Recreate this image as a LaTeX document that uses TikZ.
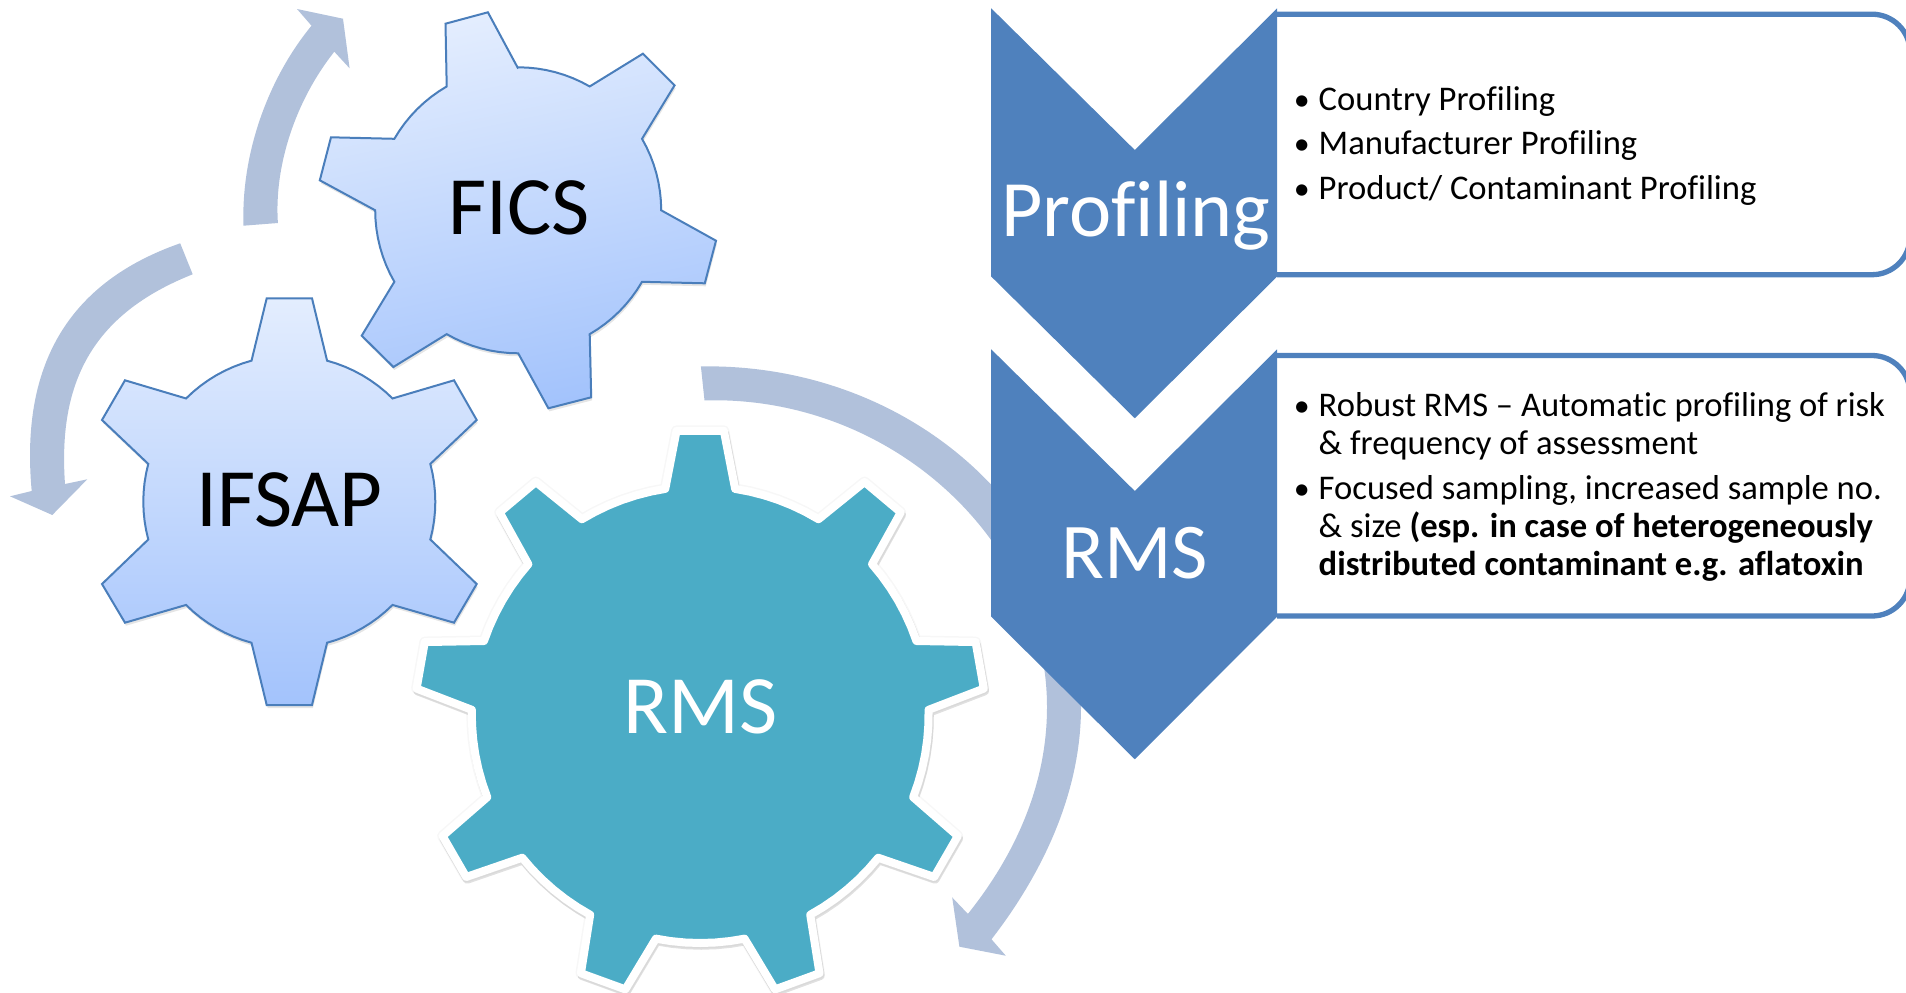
\documentclass[tikz,border=0pt]{standalone}
\usepackage{fontspec}
\setmainfont[Ligatures={TeX,NoCommon}]{Carlito}
\definecolor{arrowblue}{HTML}{B1C1DB}
\definecolor{chevblue}{HTML}{4F81BD}
\definecolor{gearline}{HTML}{4A7EBB}
\definecolor{gearlight}{HTML}{E3EDFE}
\definecolor{geardark}{HTML}{A3C3FC}
\definecolor{rmsteal}{HTML}{4BACC6}
% circular arc of a gear body: centre x, centre y, radius, from angle, to angle
\newcommand\bodyarc[5]{-- plot[domain=#4:#5,samples=9] ({#1+#3*cos(\x)},{#2+#3*sin(\x)})}
\newcommand\ficsgear{(487.9,12.3) -- (517.7,67.7)
  \bodyarc{518.2}{210.3}{143}{-90}{-60} -- (642.9,53.7) -- (674.6,85.3)
  \bodyarc{518.2}{210.3}{143}{-30}{0} -- (716,240.7) -- (704.8,283.3)
  \bodyarc{518.2}{210.3}{143}{30}{60} -- (591.2,397.3) -- (548.4,408.3)
  \bodyarc{518.2}{210.3}{143}{90}{120} -- (393.4,367) -- (361.7,335.7)
  \bodyarc{518.2}{210.3}{143}{150}{180} -- (319.8,180.3) -- (331,137.3)
  \bodyarc{518.2}{210.3}{143}{210}{240} -- (445.5,23.7) -- cycle}
\newcommand\ifsapgear{(266.7,298.3) -- (312,298.3)
  \bodyarc{289.3}{501.7}{146}{-75}{-45} -- (454,380.3) -- (476.7,420)
  \bodyarc{289.3}{501.7}{146}{-15}{15} -- (476.7,584) -- (454,622.7)
  \bodyarc{289.3}{501.7}{146}{45}{75} -- (312,705) -- (266.7,705)
  \bodyarc{289.3}{501.7}{146}{105}{135} -- (125,622.7) -- (102,584)
  \bodyarc{289.3}{501.7}{146}{165}{195} -- (102,420) -- (125,380.3)
  \bodyarc{289.3}{501.7}{146}{225}{255} -- cycle}
\newcommand\rmsR{228.4}
\newcommand\rmsT{284.8}
\newcommand\rmsgear{({700.2+\rmsT*cos(-94.76)},{714.6+\rmsT*sin(-94.76)})
  \foreach \c/\a/\b in {-90/-81.2/-58.8,-50/-41.2/-18.8,-10/-1.2/21.2,30/38.8/61.2,70/78.8/101.2,110/118.8/141.2,150/158.8/181.2,190/198.8/221.2,230/238.8/261.2}{
    -- ({700.2+\rmsT*cos(\c-4.76)},{714.6+\rmsT*sin(\c-4.76)})
    -- ({700.2+\rmsT*cos(\c+4.76)},{714.6+\rmsT*sin(\c+4.76)})
    -- plot[domain=\a:\b,samples=7] ({700.2+\rmsR*cos(\x)},{714.6+\rmsR*sin(\x)})
  } -- cycle}
\tikzset{
  blockarrow/.style={fill=arrowblue,draw=none},
  softshadow/.style={fill=black,fill opacity=0.10,draw=none},
  bluegear/.style={top color=gearlight,bottom color=geardark,draw=gearline,line width=2pt,line join=miter},
  chevron/.style={fill=chevblue,draw=none},
  panel/.style={draw=chevblue,line width=5.3pt,fill=white},
  biglabel/.style={font=\fontsize{83}{95}\selectfont,inner sep=0pt,anchor=base},
  bodytext/.style={font=\fontsize{34.6}{38}\selectfont,inner sep=0pt,anchor=base west,align=left,text=black},
}
\newcommand\bulletitem{\llap{{\fontsize{32}{32}\selectfont\textbullet}\hspace{9pt}}}
\begin{document}
\begin{tikzpicture}[x=1pt,y=-1pt]
\useasboundingbox (0,0) rectangle (1906,993);
\clip (0,0) rectangle (1906,993);
% curved arrows
\fill[blockarrow] (243.5,225.7) .. controls (241,155) and (267,80) .. (311.5,25.7)
  -- (297,9) -- (343,18.7) -- (349.6,68.3) -- (334.3,51.7)
  .. controls (296,100) and (274,165) .. (277.9,223) -- cycle;
\fill[blockarrow] (180.2,243.3) .. controls (52,288) and (22,385) .. (31.7,491)
  -- (10,496.3) -- (52.3,515) -- (87.3,479.3) -- (65,484)
  .. controls (58,385) and (90,315) .. (192.7,274.3) -- cycle;
\fill[blockarrow] (700.9,366.4) .. controls (910,363) and (1081,515) .. (1081,707)
  .. controls (1081,790) and (1045,870) .. (991.5,939.3)
  -- (1005.8,955.7) -- (959.4,946.7) -- (952.2,897.4) -- (967.9,913.9)
  .. controls (1015,855) and (1047,785) .. (1047,707)
  .. controls (1047,540) and (890,395) .. (704.5,400.4) -- cycle;
% FICS gear
\fill[softshadow,shift={(1,3)}] \ficsgear;
\shade[bluegear,shading angle=12] \ficsgear;
\node[biglabel] (fics) at (519,234) {FICS};
% IFSAP gear
\fill[softshadow,shift={(1,3)}] \ifsapgear;
\shade[bluegear] \ifsapgear;
\node[biglabel] (ifsap) at (289.5,526) {IFSAP};
% RMS gear
\draw[black,draw opacity=0.03,line width=11pt,line join=round] \rmsgear;
\draw[black,draw opacity=0.12,line width=8.5pt,line join=round,shift={(1,2.5)}] \rmsgear;
\draw[white,fill=rmsteal,line width=8pt,line join=round] \rmsgear;
\node[biglabel,text=white] (rmsgearlabel) at (701,733) {RMS};
% panels
\draw[panel] (1277,14.2) -- (1872,14.2) arc[start angle=-90,end angle=0,radius=38] -- (1910,236.7) arc[start angle=0,end angle=90,radius=38] -- (1277,274.7);
\draw[panel] (1277,355.5) -- (1872,355.5) arc[start angle=-90,end angle=0,radius=38] -- (1910,578) arc[start angle=0,end angle=90,radius=38] -- (1277,616);
% chevrons
\fill[chevron] (991.2,8.3) -- (1134.8,150) -- (1277.1,8.3) -- (1277.1,276.5) -- (1134.8,418.3) -- (991.2,276.5) -- cycle;
\fill[chevron] (991.2,349.3) -- (1134.8,491) -- (1277.1,349.3) -- (1277.1,616.7) -- (1134.8,759.3) -- (991.2,616.7) -- cycle;
\node[biglabel,text=white,font=\fontsize{80}{95}\selectfont] (profiling) at (1136,236.7) {Profiling};
\node[biglabel,text=white,font=\fontsize{79}{95}\selectfont] (rmschev) at (1134.8,578) {RMS};
% text
\node[bodytext] (t1) at (1318.5,110.5) {\bulletitem Country Profiling};
\node[bodytext] (t2) at (1318.5,154.8) {\bulletitem Manufacturer Profiling};
\node[bodytext] (t3) at (1318.5,199.8) {\bulletitem Product/ Contaminant Profiling};
\node[bodytext] (t4) at (1318.5,454.8) {\bulletitem Robust RMS – Automatic profiling of risk\\\& frequency of assessment};
\node[bodytext] (t5) at (1318.5,575.8) {\bulletitem Focused sampling, increased sample no.\\\& size \textbf{(esp. in case of heterogeneously}\\\textbf{distributed contaminant e.g. aflatoxin}};
\end{tikzpicture}
\end{document}
